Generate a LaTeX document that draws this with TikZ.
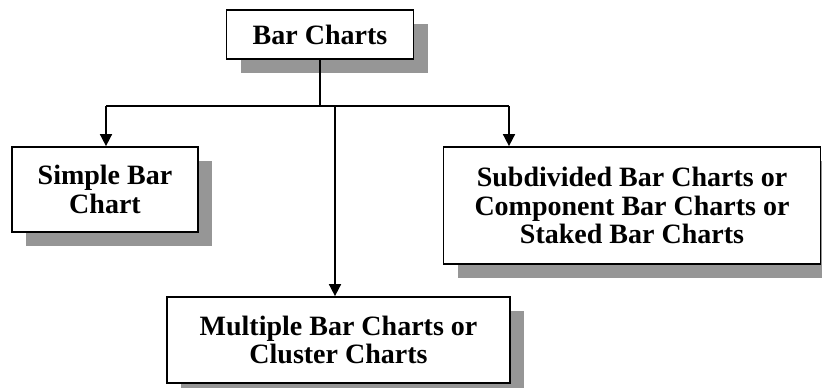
\documentclass[tikz,border=0pt]{standalone}
\usepackage{fontspec}
\setmainfont{Liberation Serif}
\usetikzlibrary{arrows.meta,shadows}
\definecolor{shadowgray}{RGB}{150,150,150}
\tikzset{
  box/.style={draw=black, line width=1.3pt, fill=white, align=center, inner sep=0pt,
    font=\fontsize{21}{21.5}\selectfont\bfseries,
    drop shadow={shadow xshift=10.5pt, shadow yshift=-10.5pt, opacity=1, fill=shadowgray}},
  conn/.style={line width=1.2pt},
  arr/.style={conn, -{Triangle[width=9pt,length=9pt]}}
}
\begin{document}
\begin{tikzpicture}[x=0.75pt,y=-0.75pt]
\useasboundingbox (0,0) rectangle (822,387);
\clip (0,0) rectangle (822,387);
\node[box, minimum width=140.25pt, minimum height=36.75pt] (top) at (320,34.5) {Bar Charts};
\node[box, minimum width=139.5pt, minimum height=63.75pt] (simple) at (105,189.5) {Simple Bar\\Chart};
\node[box, minimum width=282.75pt, minimum height=87.75pt] (sub) at (632,205.5) {Subdivided Bar Charts or\\Component Bar Charts or\\Staked Bar Charts};
\node[box, minimum width=257.25pt, minimum height=64.5pt] (mult) at (338.5,340) {Multiple Bar Charts or\\Cluster Charts};
\coordinate (j) at (320,106);
\coordinate (jl) at (106,106);
\coordinate (jr) at (509,106);
\coordinate (jm) at (335,106);
\draw[conn] (top.south) -- (j);
\draw[conn] (jl) -- (jr);
\draw[arr] (jl) -- (jl |- simple.north);
\draw[arr] (jr) -- (jr |- sub.north);
\draw[arr] (jm) -- (jm |- mult.north);
\end{tikzpicture}
\end{document}
